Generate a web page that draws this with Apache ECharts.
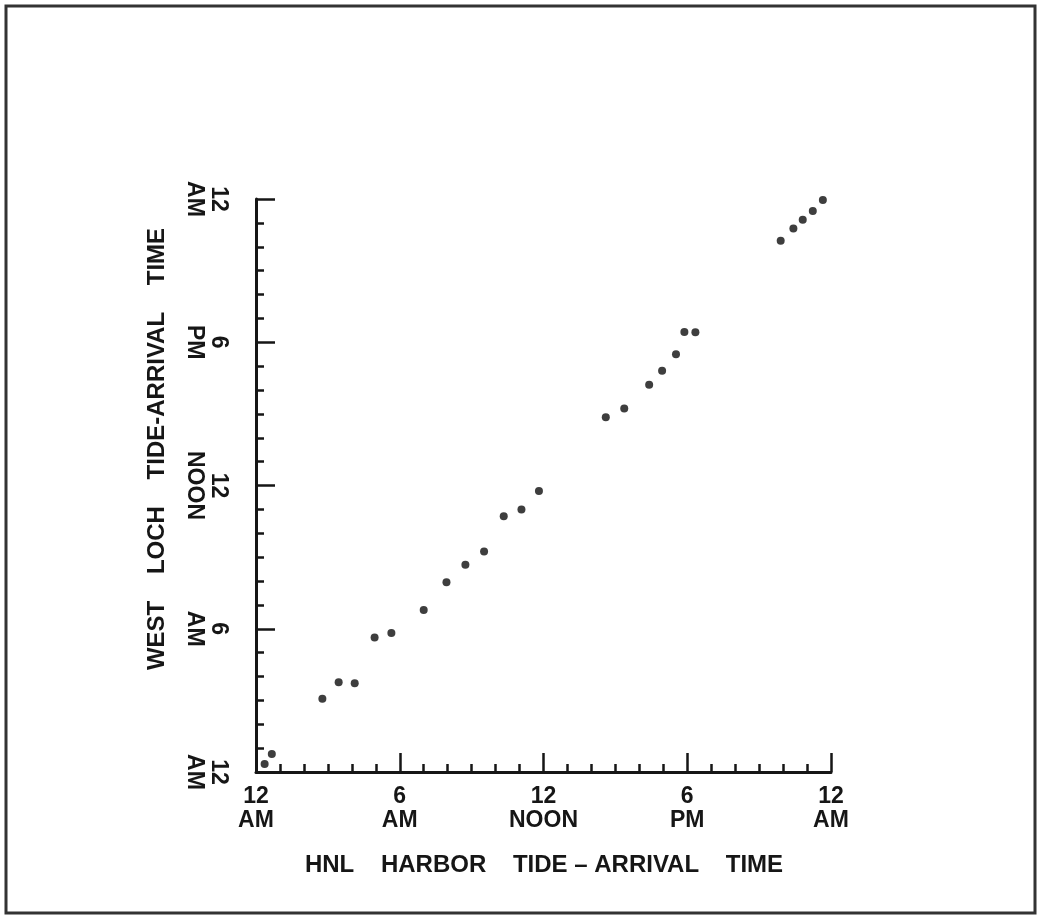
<!DOCTYPE html>
<html><head><meta charset="utf-8">
<script src="https://cdn.jsdelivr.net/npm/echarts@6/dist/echarts.min.js"></script>
<style>html,body{margin:0;padding:0;background:#fff}#c{width:1039px;height:919px}</style>
</head><body><div id="c"></div>
<script>
// Hours after midnight (0-24)
const hnlHarborTimes = [0.36, 0.66, 2.77, 3.45, 4.12, 4.95, 5.65, 7.0, 7.95, 8.74, 9.52, 10.34, 11.08, 11.81,
  14.6, 15.37, 16.41, 16.95, 17.53, 17.88, 18.34, 21.9, 22.43, 22.82, 23.24, 23.66];
const westLochTimes = [0.34, 0.75, 3.07, 3.76, 3.72, 5.63, 5.82, 6.79, 7.95, 8.68, 9.24, 10.71, 10.99, 11.77,
  14.86, 15.23, 16.22, 16.81, 17.5, 18.43, 18.42, 22.25, 22.76, 23.13, 23.5, 23.96];
const tickValues = [0, 6, 12, 18, 24];
const tickHours = ['12', '6', '12', '6', '12'];
const tickPeriods = ['AM', 'AM', 'NOON', 'PM', 'AM'];
const xTitle = 'HNL    HARBOR    TIDE – ARRIVAL    TIME';
const yTitle = 'WEST    LOCH    TIDE-ARRIVAL    TIME';

const ink = '#161616';
const font = '"Liberation Sans", Arial, sans-serif';
function fmt(v) {
  const i = tickValues.indexOf(v);
  return i < 0 ? '' : tickHours[i] + '\n' + tickPeriods[i];
}
const axisCommon = {
  type: 'value', min: 0, max: 24, interval: 6,
  axisLine: { show: true, lineStyle: { color: ink, width: 3 } },
  axisTick: { show: true, inside: true, length: 19, lineStyle: { color: ink, width: 2.5 } },
  minorTick: { show: true, splitNumber: 6, length: 8, lineStyle: { color: ink, width: 2.5 } },
  splitLine: { show: false },
  axisLabel: { formatter: fmt, color: ink, fontFamily: font, fontWeight: 'bold', fontSize: 23, lineHeight: 24 }
};
const chart = echarts.init(document.getElementById('c'), null, { renderer: 'canvas' });
chart.setOption({
  backgroundColor: '#fff',
  animation: false,
  grid: { left: 256, right: 208, top: 199, bottom: 147, containLabel: false },
  xAxis: Object.assign({}, axisCommon, {
    axisLabel: Object.assign({}, axisCommon.axisLabel, { margin: 13, showMinLabel: true, showMaxLabel: true })
  }),
  yAxis: Object.assign({}, axisCommon, {
    axisLabel: Object.assign({}, axisCommon.axisLabel, { rotate: -90, margin: 26, showMinLabel: true, showMaxLabel: true })
  }),
  series: [{
    type: 'scatter',
    data: hnlHarborTimes.map((x, i) => [x, westLochTimes[i]]),
    symbolSize: 8,
    itemStyle: { color: '#0e0e0e' }
  }],
  graphic: [
    { type: 'rect', shape: { x: 6, y: 6, width: 1029, height: 907 }, style: { fill: 'none', stroke: '#333', lineWidth: 3 } },
    { type: 'text', x: 544, y: 865, style: { text: xTitle, font: 'bold 24px ' + font, fill: ink, textAlign: 'center', textVerticalAlign: 'middle' } },
    { type: 'text', x: 157, y: 449, rotation: Math.PI / 2, style: { text: yTitle, font: 'bold 24px ' + font, fill: ink, textAlign: 'center', textVerticalAlign: 'middle' } }
  ]
});
</script>
</body></html>
